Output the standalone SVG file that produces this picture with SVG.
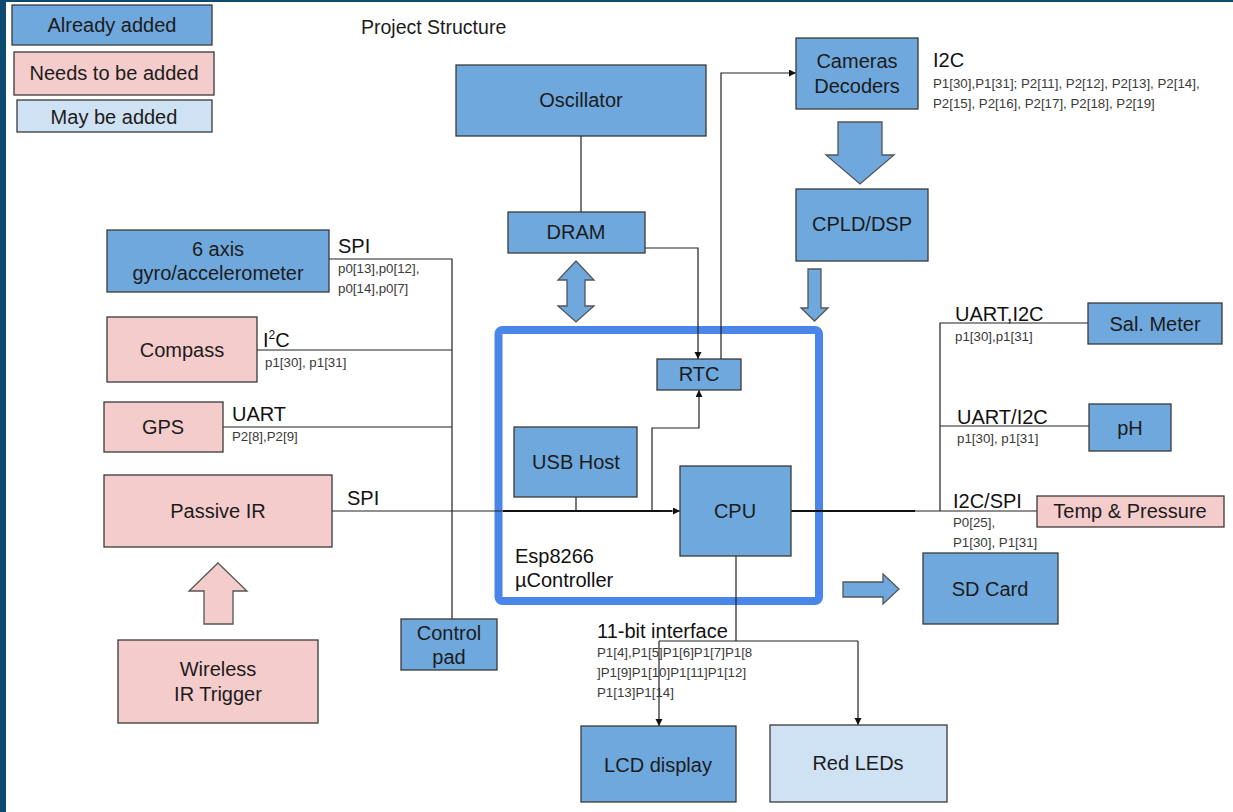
<svg xmlns="http://www.w3.org/2000/svg" width="1233" height="812" viewBox="0 0 1233 812">
<defs>
<marker id="ah" markerUnits="userSpaceOnUse" markerWidth="8" markerHeight="8" refX="7" refY="3.5" orient="auto">
<path d="M0,0 L7,3.5 L0,7 z" fill="#111"/>
</marker>
</defs>
<style>
.blue{fill:#6fa8dc;stroke:#3a3a3a;stroke-width:1.3}
.pink{fill:#f4cccc;stroke:#3a3a3a;stroke-width:1.3}
.lblue{fill:#cfe2f3;stroke:#3a3a3a;stroke-width:1.3}
.barrow{fill:#6fa8dc;stroke:#555;stroke-width:1.3}
.parrow{fill:#f4cccc;stroke:#555;stroke-width:1.3}
text{font-family:"Liberation Sans",Arial,sans-serif}
.t{font-size:20px;fill:#1c1c1c;text-anchor:middle}
.l{font-size:20px;fill:#111}
.p{font-size:13.3px;fill:#3a3a3a}
.c{fill:none;stroke:#222;stroke-width:1.2}
.ct{fill:none;stroke:#111;stroke-width:2}
</style>
<rect x="0" y="0" width="1233" height="812" fill="#ffffff"/>
<rect x="0" y="0" width="6" height="812" fill="#0c4a70"/>
<rect x="0" y="0" width="1233" height="2" fill="#0c4a70"/>

<g id="legend">
<rect class="blue" x="12" y="5" width="200" height="40"/>
<text class="t" x="112" y="32">Already added</text>
<rect class="pink" x="14" y="52" width="200" height="43"/>
<text class="t" x="114" y="80">Needs to be added</text>
<rect class="lblue" x="17" y="100" width="195" height="32"/>
<text class="t" x="114" y="124">May be added</text>
</g>
<text x="361" y="34" style="font-size:19.5px;fill:#1c1c1c">Project Structure</text>

<g id="esp8266">
<rect x="498.5" y="330" width="320.5" height="271" rx="4" fill="none" stroke="#4a86e8" stroke-width="8"/>
<text class="l" x="515" y="563">Esp8266</text>
<text class="l" x="515" y="587">µController</text>
</g>

<g id="block-arrows">
<polygon class="barrow" points="838,122 882,122 882,155 894,155 860,184 826,155 838,155"/>
<polygon class="barrow" points="808,269 821,269 821,308 828,308 814.5,321 801,308 808,308"/>
<polygon class="barrow" points="576,261 594,280 585,280 585,306 594,306 576,322 558,306 567,306 567,280 558,280"/>
<polygon class="barrow" points="843,582 883,582 883,574 899,589 883,604 883,597 843,597"/>
<polygon class="parrow" points="218,563 247,591 233,591 233,624 204,624 204,591 189,591"/>
</g>

<g id="connectors">
<path class="c" d="M581,136 V212"/>
<path class="c" d="M645,248 H698 V359" marker-end="url(#ah)"/>
<path class="c" d="M721,359 V73 H796" marker-end="url(#ah)"/>
<path class="c" d="M329,259 H452 V619"/>
<path class="c" d="M257,350 H452"/>
<path class="c" d="M223,427 H452"/>
<path class="c" d="M332,511 H503"/>
<path class="ct" d="M503,511 H672"/>
<path class="c" d="M660,511 H680" marker-end="url(#ah)"/>
<path class="c" d="M576,497 V511"/>
<path class="c" d="M652,511 V428 H699 V390" marker-end="url(#ah)"/>
<path class="ct" d="M791,511 H915"/>
<path class="c" d="M915,511 H1037"/>
<path class="c" d="M940,511 V323 H1088"/>
<path class="c" d="M940,426 H1089"/>
<path class="c" d="M736,556 V641"/>
<path class="c" d="M659,641 H858"/>
<path class="c" d="M659,641 V726" marker-end="url(#ah)"/>
<path class="c" d="M858,641 V725" marker-end="url(#ah)"/>
</g>

<g id="connector-labels">
<text class="l" x="338" y="253">SPI</text>
<text class="p" x="338" y="273">p0[13],p0[12],</text>
<text class="p" x="338" y="293">p0[14],p0[7]</text>
<text class="l" x="263" y="347">I<tspan dy="-8" style="font-size:12px">2</tspan><tspan dy="8">C</tspan></text>
<text class="p" x="265" y="367">p1[30], p1[31]</text>
<text class="l" x="232" y="421">UART</text>
<text class="p" x="232" y="441">P2[8],P2[9]</text>
<text class="l" x="347" y="505">SPI</text>
<text class="l" x="933" y="67">I2C</text>
<text class="p" x="933" y="88">P1[30],P1[31]; P2[11], P2[12], P2[13], P2[14],</text>
<text class="p" x="933" y="108">P2[15], P2[16], P2[17], P2[18], P2[19]</text>
<text class="l" x="955" y="321">UART,I2C</text>
<text class="p" x="955" y="341">p1[30],p1[31]</text>
<text class="l" x="957" y="424">UART/I2C</text>
<text class="p" x="957" y="443">p1[30], p1[31]</text>
<text class="l" x="953" y="508">I2C/SPI</text>
<text class="p" x="953" y="527">P0[25],</text>
<text class="p" x="953" y="547">P1[30], P1[31]</text>
<text class="l" x="597" y="638">11-bit interface</text>
<text class="p" x="597" y="657">P1[4],P1[5]P1[6]P1[7]P1[8</text>
<text class="p" x="597" y="677">]P1[9]P1[10]P1[11]P1[12]</text>
<text class="p" x="597" y="697">P1[13]P1[14]</text>
</g>

<g id="oscillator"><rect class="blue" x="456" y="65" width="250" height="71"/><text class="t" x="581" y="107">Oscillator</text></g>
<g id="dram"><rect class="blue" x="508" y="212" width="137" height="41"/><text class="t" x="576" y="239">DRAM</text></g>
<g id="cameras"><rect class="blue" x="796" y="38" width="122" height="71"/><text class="t" x="857" y="68">Cameras</text><text class="t" x="857" y="93">Decoders</text></g>
<g id="cpld"><rect class="blue" x="796" y="189" width="132" height="72"/><text class="t" x="862" y="231">CPLD/DSP</text></g>
<g id="rtc"><rect class="blue" x="657" y="359" width="84" height="31"/><text class="t" x="699" y="381">RTC</text></g>
<g id="usbhost"><rect class="blue" x="514" y="427" width="123" height="70"/><text class="t" x="576" y="469">USB Host</text></g>
<g id="cpu"><rect class="blue" x="680" y="466" width="111" height="90"/><text class="t" x="735" y="518">CPU</text></g>
<g id="controlpad"><rect class="blue" x="401" y="619" width="96" height="51"/><text class="t" x="449" y="640">Control</text><text class="t" x="449" y="664">pad</text></g>
<g id="gyro"><rect class="blue" x="107" y="230" width="222" height="62"/><text class="t" x="218" y="256">6 axis</text><text class="t" x="218" y="280">gyro/accelerometer</text></g>
<g id="compass"><rect class="pink" x="107" y="317" width="150" height="65"/><text class="t" x="182" y="357">Compass</text></g>
<g id="gps"><rect class="pink" x="104" y="402" width="119" height="50"/><text class="t" x="163" y="434">GPS</text></g>
<g id="passiveir"><rect class="pink" x="104" y="475" width="228" height="72"/><text class="t" x="218" y="518">Passive IR</text></g>
<g id="wireless"><rect class="pink" x="118" y="640" width="200" height="83"/><text class="t" x="218" y="676">Wireless</text><text class="t" x="218" y="701">IR Trigger</text></g>
<g id="lcd"><rect class="blue" x="581" y="726" width="155" height="76"/><text class="t" x="658" y="772">LCD display</text></g>
<g id="redleds"><rect class="lblue" x="770" y="725" width="177" height="77"/><text class="t" x="858" y="770">Red LEDs</text></g>
<g id="salmeter"><rect class="blue" x="1088" y="303" width="134" height="41"/><text class="t" x="1155" y="331">Sal. Meter</text></g>
<g id="ph"><rect class="blue" x="1089" y="404" width="82" height="47"/><text class="t" x="1130" y="435">pH</text></g>
<g id="temp"><rect class="pink" x="1037" y="496" width="187" height="31"/><text class="t" x="1130" y="518">Temp &amp; Pressure</text></g>
<g id="sdcard"><rect class="blue" x="923" y="553" width="135" height="71"/><text class="t" x="990" y="596">SD Card</text></g>
</svg>
